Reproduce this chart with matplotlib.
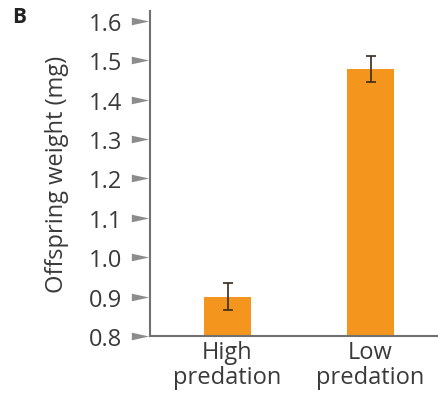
import matplotlib.pyplot as plt
import numpy as np
from matplotlib.path import Path

# Offspring weight by predation regime
groups = ['High\npredation', 'Low\npredation']
weights = [0.90, 1.477]
errors = [0.034, 0.033]
yticks = [0.8, 0.9, 1.0, 1.1, 1.2, 1.3, 1.4, 1.5, 1.6]

plt.rcParams['font.family'] = ['Open Sans', 'DejaVu Sans']

fig = plt.figure(figsize=(4.39, 4.06), dpi=100)
ax = fig.add_axes([0.3417, 0.170, 0.6583, 0.8005])

x = np.arange(len(groups))
ax.bar(x, weights, width=0.33, color='#F4961E', zorder=2)
ax.errorbar(x, weights, yerr=errors, fmt='none', ecolor='#3a2a1a',
            elinewidth=1.2, capsize=3.5, capthick=1.2, zorder=3)

ax.set_xlim(-0.542, 1.479)
ax.set_ylim(0.8, 1.625)

for side in ['top', 'right']:
    ax.spines[side].set_visible(False)
for side in ['left', 'bottom']:
    ax.spines[side].set_color('#707070')
    ax.spines[side].set_linewidth(1.5)

# wedge-shaped tick marks pointing at the axis
wedge = Path([(-1, 0.44), (1, 0), (-1, -0.44), (-1, 0.44)],
             [Path.MOVETO, Path.LINETO, Path.LINETO, Path.CLOSEPOLY])
ax.plot([-0.033] * len(yticks), yticks, linestyle='none', marker=wedge,
        markersize=12.5, color='#8c8c8c', markeredgewidth=0,
        transform=ax.get_yaxis_transform(), clip_on=False)

ax.set_yticks(yticks)
ax.set_yticklabels([f'{t:.1f}' for t in yticks])
ax.tick_params(axis='y', length=0, pad=20, labelsize=17, labelcolor='#3a3a3a')
ax.set_xticks(x)
ax.set_xticklabels(groups, linespacing=1.05)
ax.tick_params(axis='x', length=0, pad=3, labelsize=17, labelcolor='#3a3a3a')

ax.set_ylabel('Offspring weight (mg)', fontsize=17, color='#3a3a3a', labelpad=14)

fig.text(0.027, 0.982, 'B', fontsize=15, fontweight='bold', color='#222222',
         va='top', ha='left')

fig.savefig('out.png', dpi=100)
